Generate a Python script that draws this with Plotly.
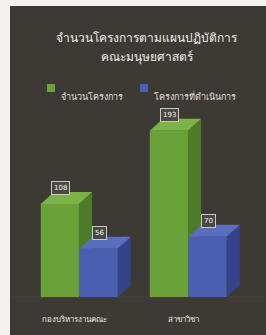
import plotly.graph_objects as go

categories = ["กองบริหารงานคณะ", "สาขาวิชา"]
series_names = ["จำนวนโครงการ", "โครงการที่ดำเนินการ"]
total_projects = [108, 193]
done_projects = [56, 70]
title_lines = ["จำนวนโครงการตามแผนปฏิบัติการ", "คณะมนุษยศาสตร์"]

W, H = 266, 335
BG = "#3d3a36"
front_cols = ["#6ba139", "#4a5eb2"]
side_cols = ["#4e7b28", "#34448a"]
top_cols = ["#7db247", "#5a6dbf"]

bar_w = 0.35
offsets = [-0.18, 0.175]
dx, dy = 0.12, 14.0

fig = go.Figure()

# floor line
fig.add_trace(go.Scatter(x=[-0.62, 1.7], y=[0, 0], mode="lines",
                         line=dict(color="#4a403c", width=1), hoverinfo="skip", showlegend=False))

for ci, cat in enumerate(categories):
    for si, vals in enumerate([total_projects, done_projects]):
        h = vals[ci]
        c = ci + offsets[si]
        xl, xr = c - bar_w / 2, c + bar_w / 2
        # side face
        fig.add_trace(go.Scatter(x=[xr, xr + dx, xr + dx, xr, xr], y=[0, dy, h + dy, h, 0],
                                 fill="toself", fillcolor=side_cols[si], mode="lines",
                                 line=dict(width=0, color=side_cols[si]), hoverinfo="skip", showlegend=False))
        # top face
        fig.add_trace(go.Scatter(x=[xl, xr, xr + dx, xl + dx, xl], y=[h, h, h + dy, h + dy, h],
                                 fill="toself", fillcolor=top_cols[si], mode="lines",
                                 line=dict(width=0, color=top_cols[si]), hoverinfo="skip", showlegend=False))
        # front face
        fig.add_trace(go.Scatter(x=[xl, xr, xr, xl, xl], y=[0, 0, h, h, 0],
                                 fill="toself", fillcolor=front_cols[si], mode="lines",
                                 line=dict(width=0, color=front_cols[si]), hoverinfo="skip", showlegend=False))
        fig.add_annotation(x=c + 0.01, y=h + dy - 4, text=str(h), showarrow=False, yanchor="bottom",
                           font=dict(family="DejaVu Sans", size=7, color="#f2f2f2"),
                           bgcolor="#4a4844", bordercolor="#c9c9c0", borderwidth=1, borderpad=2)

for ci, cat in enumerate(categories):
    fig.add_annotation(x=ci, y=0, yshift=-21, xshift=-5, text=cat, showarrow=False,
                       font=dict(family="Noto Sans", size=8, color="#e8e8e2"))

# title
px2x = lambda px: (px - 10) / (W - 10)
py2y = lambda py: (H - py) / (H - 6)
fig.add_annotation(xref="paper", yref="paper", x=px2x(147), y=py2y(27), text=title_lines[0],
                   showarrow=False, font=dict(family="Noto Sans", size=12, color="#ecece6"))
fig.add_annotation(xref="paper", yref="paper", x=px2x(147), y=py2y(46), text=title_lines[1],
                   showarrow=False, font=dict(family="Noto Sans", size=12, color="#ecece6"))

# legend
for si, (sq, tx) in enumerate([(47, 59), (140, 152)]):
    fig.add_shape(type="rect", xref="paper", yref="paper", x0=px2x(sq), x1=px2x(sq + 8),
                  y0=py2y(92), y1=py2y(84), fillcolor=front_cols[si], line=dict(width=0))
    fig.add_annotation(xref="paper", yref="paper", x=px2x(tx), y=py2y(88), xanchor="left",
                       text=series_names[si], showarrow=False,
                       font=dict(family="Noto Sans", size=9, color="#e0ddd8"))

# light photo frame on left and top
fig.add_shape(type="rect", xref="paper", yref="paper", x0=px2x(-2), x1=px2x(10),
              y0=py2y(H + 2), y1=py2y(-2), fillcolor="#f3f2ee", line=dict(width=0))
fig.add_shape(type="rect", xref="paper", yref="paper", x0=px2x(-2), x1=px2x(W + 2),
              y0=py2y(6), y1=py2y(-2), fillcolor="#f3f2ee", line=dict(width=0))

fig.update_layout(
    width=W, height=H,
    margin=dict(l=10, r=0, t=6, b=0),
    paper_bgcolor=BG, plot_bgcolor=BG,
    showlegend=False,
    xaxis=dict(range=[-0.6376, 1.711], visible=False, fixedrange=True),
    yaxis=dict(range=[-44.1, 338], visible=False, fixedrange=True),
)

fig.write_html("out.html", config={"displayModeBar": False},
               post_script=("document.body.style.margin='0px';document.body.style.overflow='hidden';"
                            "document.documentElement.style.overflow='hidden';"
                            "document.body.style.background='" + BG + "';"
                            "document.documentElement.style.background='" + BG + "';"))
